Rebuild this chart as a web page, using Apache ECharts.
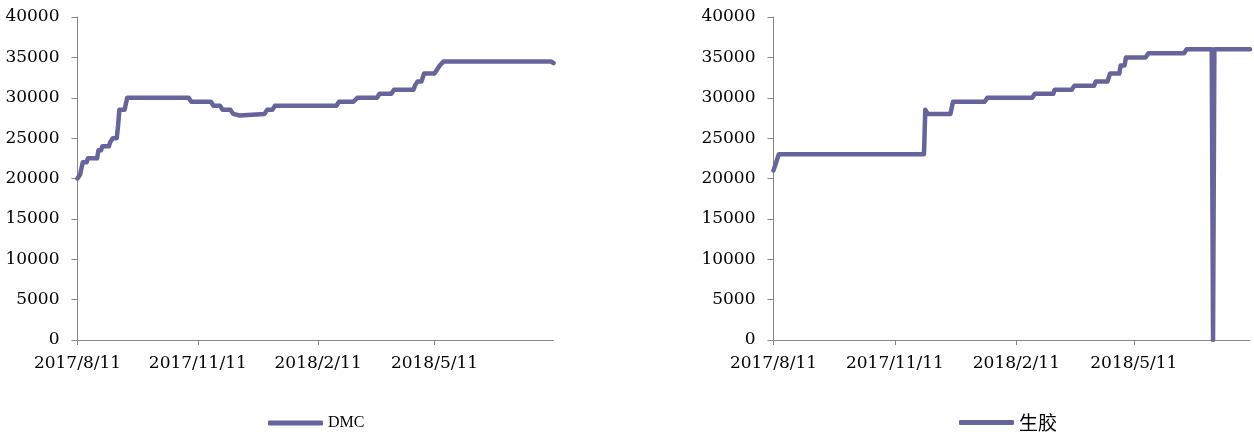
<!DOCTYPE html>
<html>
<head>
<meta charset="utf-8">
<script src="https://cdn.jsdelivr.net/npm/echarts@6/dist/echarts.min.js"></script>
<style>
  html, body { margin: 0; padding: 0; background: #fff; }
  #chart { width: 1254px; height: 436px; }
</style>
</head>
<body>
<div id="chart"></div>
<script>
// DMC price path (date, yuan/ton)
const dmcDates = [
  '2017-08-11','2017-08-12','2017-08-13','2017-08-14','2017-08-15','2017-08-18',
  '2017-08-19','2017-08-26','2017-08-27','2017-08-29','2017-08-30','2017-09-04',
  '2017-09-05','2017-09-06','2017-09-07','2017-09-10','2017-09-11','2017-09-12',
  '2017-09-16','2017-09-18','2017-11-04','2017-11-06','2017-11-21','2017-11-23',
  '2017-11-28','2017-11-30','2017-12-06','2017-12-08','2017-12-09','2017-12-13',
  '2017-12-14','2018-01-01','2018-01-03','2018-01-07','2018-01-09','2018-02-25',
  '2018-02-27','2018-03-10','2018-03-13','2018-03-28','2018-03-30','2018-04-08',
  '2018-04-10','2018-04-25','2018-04-26','2018-04-28','2018-05-01','2018-05-03',
  '2018-05-11','2018-05-13','2018-05-14','2018-05-15','2018-05-16','2018-05-18',
  '2018-08-08','2018-08-10'
];
const dmcValues = [
  20000, 20000, 20500, 20500, 22000, 22000,
  22500, 22500, 23500, 23500, 24000, 24000,
  24500, 24500, 25000, 25000, 26500, 28500,
  28500, 30000, 30000, 29500, 29500, 29000,
  29000, 28500, 28500, 28000, 27800, 27800,
  28000, 28000, 28500, 28500, 29000, 29000,
  29500, 29500, 30000, 30000, 30500, 30500,
  31000, 31000, 31500, 32000, 32000, 33000,
  33000, 33500, 33500, 34000, 34000, 34500,
  34500, 34300
];

// 生胶 price path (date, yuan/ton)
const rubberDates = [
  '2017-08-11','2017-08-12','2017-08-13','2017-08-15','2017-12-03','2017-12-04',
  '2017-12-06','2017-12-23','2017-12-25','2018-01-18','2018-01-20','2018-02-23',
  '2018-02-25','2018-03-11','2018-03-12','2018-03-25','2018-03-27','2018-04-11',
  '2018-04-12','2018-04-21','2018-04-23','2018-04-30','2018-05-01','2018-05-04',
  '2018-05-05','2018-05-20','2018-05-22','2018-06-18','2018-06-20','2018-07-09',
  '2018-07-10','2018-07-11','2018-08-07'
];
const rubberValues = [
  21000, 21500, 22000, 23000, 23000, 28500,
  28000, 28000, 29500, 29500, 30000, 30000,
  30500, 30500, 31000, 31000, 31500, 31500,
  32000, 32000, 33000, 33000, 34000, 34000,
  35000, 35000, 35500, 35500, 36000, 36000,
  0, 36000, 36000
];

// Date axis labels
const tickDates = ['2017-08-11', '2017-11-11', '2018-02-11', '2018-05-11'];
const dmcRange = ['2017-08-11', '2018-08-10'];
const rubberRange = ['2017-08-11', '2018-08-07'];

const lineColor = '#65659b';
const axisColor = '#868686';
const numFont = 'DejaVu Serif';

function ts(s) {
  const p = s.split('-').map(Number);
  return new Date(p[0], p[1] - 1, p[2]).getTime();
}
function fmtDate(v) {
  const d = new Date(v);
  return d.getFullYear() + '/' + (d.getMonth() + 1) + '/' + d.getDate();
}
function pairs(dates, values) {
  return dates.map((d, i) => [ts(d), values[i]]);
}

const tickValues = tickDates.map(ts);

// Dates are plotted as millisecond timestamps on a linear axis,
// with ticks and labels pinned to the quarterly dates.
function xAxisFor(gridIndex, range) {
  return {
    type: 'value',
    gridIndex: gridIndex,
    min: ts(range[0]),
    max: ts(range[1]),
    axisLine: { show: true, onZero: false, lineStyle: { color: axisColor, width: 1 } },
    axisTick: { show: true, length: 5, lineStyle: { color: axisColor }, customValues: tickValues },
    axisLabel: {
      customValues: tickValues,
      formatter: fmtDate,
      color: '#000',
      fontFamily: numFont,
      fontSize: 17,
      margin: 15,
      hideOverlap: false
    },
    splitLine: { show: false }
  };
}
function yAxisFor(gridIndex) {
  return {
    type: 'value',
    gridIndex: gridIndex,
    min: 0,
    max: 40000,
    interval: 5000,
    axisLine: { show: true, lineStyle: { color: axisColor, width: 1 } },
    axisTick: { show: true, length: 6, lineStyle: { color: axisColor } },
    axisLabel: {
      color: '#000', fontFamily: numFont, fontSize: 17, margin: 18,
      formatter: v => String(v)
    },
    splitLine: { show: false }
  };
}
function lineSeries(name, idx, data) {
  return {
    name: name,
    type: 'line',
    xAxisIndex: idx,
    yAxisIndex: idx,
    data: data,
    showSymbol: false,
    symbol: 'none',
    lineStyle: { color: lineColor, width: 4.5, cap: 'round', join: 'round' },
    itemStyle: { color: lineColor },
    animation: false
  };
}
function legendFor(name, left, top, font, size) {
  return {
    data: [{ name: name, icon: 'roundRect' }],
    left: left,
    top: top,
    padding: 0,
    itemWidth: 55,
    itemHeight: 5,
    itemGap: 4,
    textStyle: { color: '#000', fontFamily: font, fontSize: size }
  };
}

const chart = echarts.init(document.getElementById('chart'), null, { renderer: 'canvas' });
chart.setOption({
  backgroundColor: '#fff',
  animation: false,
  grid: [
    { left: 77.5, right: 700.5, top: 17, bottom: 96 },
    { left: 773.5, right: 4, top: 17, bottom: 96 }
  ],
  xAxis: [xAxisFor(0, dmcRange), xAxisFor(1, rubberRange)],
  yAxis: [yAxisFor(0), yAxisFor(1)],
  legend: [
    legendFor('DMC', 268, 415, 'Liberation Serif', 16),
    legendFor('生胶', 959, 413, 'Noto Sans CJK SC', 19)
  ],
  series: [
    lineSeries('DMC', 0, pairs(dmcDates, dmcValues)),
    lineSeries('生胶', 1, pairs(rubberDates, rubberValues))
  ]
});
</script>
</body>
</html>
